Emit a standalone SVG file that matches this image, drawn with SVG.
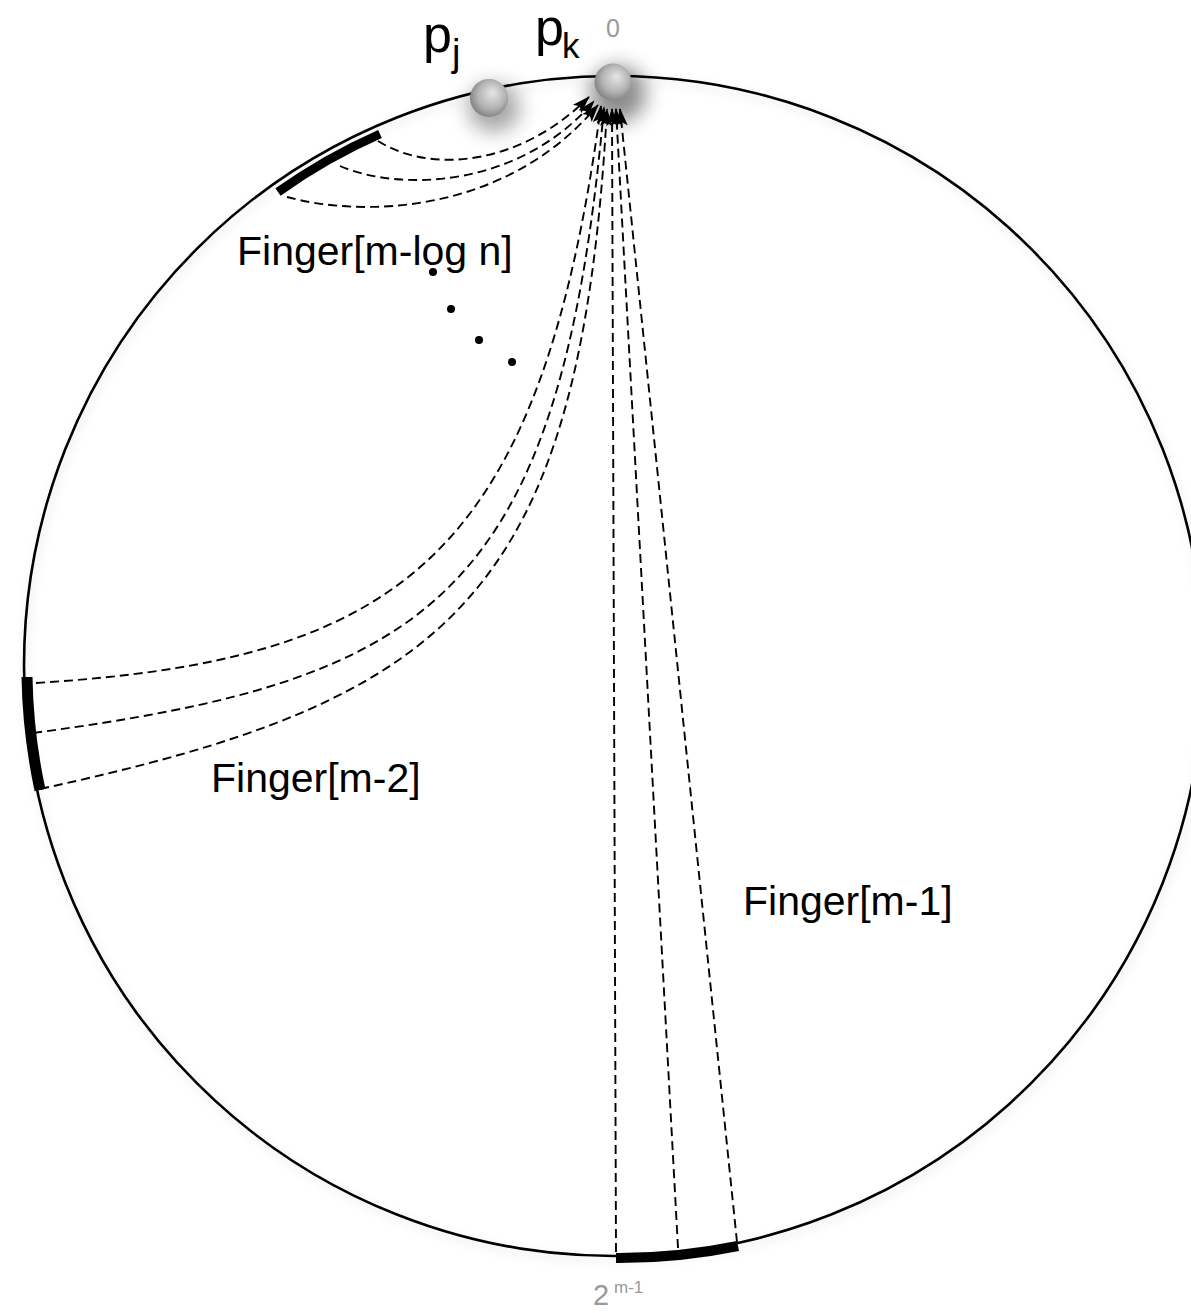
<svg xmlns="http://www.w3.org/2000/svg" width="1191" height="1313" viewBox="0 0 1191 1313">
<style>
.lbl{font-family:"Liberation Sans",Arial,sans-serif;fill:#000}
.grey{font-family:"Liberation Sans",Arial,sans-serif;fill:#999}
.dash{fill:none;stroke:#000;stroke-width:1.9;stroke-dasharray:9 5}
.bar{fill:none;stroke:#000;stroke-linecap:butt}
</style>
<defs>
<marker id="ah" markerUnits="userSpaceOnUse" markerWidth="18" markerHeight="12" viewBox="0 0 18 12" refX="17" refY="6" orient="auto">
<path d="M0,0 L18,6 L0,12 L4,6 Z" fill="#000"/>
</marker>
<radialGradient id="ball" cx="0.55" cy="0.45" r="0.6" fx="0.6" fy="0.35">
<stop offset="0" stop-color="#e6e6e6"/>
<stop offset="0.6" stop-color="#b4b4b4"/>
<stop offset="1" stop-color="#7c7c7c"/>
</radialGradient>
<filter id="blur" x="-100%" y="-100%" width="300%" height="300%"><feGaussianBlur stdDeviation="10"/></filter>
<filter id="soft" x="-10%" y="-10%" width="120%" height="120%"><feDropShadow dx="2" dy="4" stdDeviation="5" flood-color="#000" flood-opacity="0.12"/></filter>
</defs>
<rect width="1191" height="1313" fill="#fff"/>
<g id="ring" filter="url(#soft)">
<circle cx="614" cy="666" r="590" fill="none" stroke="#000" stroke-width="2.6"/>
</g>
<g id="finger-mlogn">
<path class="bar" stroke-width="9" d="M278,192 A581,581 0 0 1 380,134"/>
<text class="lbl" x="237" y="265" font-size="41">Finger[m-log n]</text>
</g>
<g id="finger-m2">
<path class="bar" stroke-width="11" d="M27,677 A587,587 0 0 0 40,790"/>
<text class="lbl" x="211" y="792" font-size="41">Finger[m-2]</text>
</g>
<g id="finger-m1">
<path class="bar" stroke-width="10" d="M616,1258 A593,593 0 0 0 738,1246"/>
<text class="lbl" x="743" y="915" font-size="41">Finger[m-1]</text>
</g>
<g id="dots" fill="#000">
<circle cx="433" cy="272" r="4"/>
<circle cx="451" cy="309" r="4"/>
<circle cx="479" cy="340" r="4"/>
<circle cx="512" cy="362" r="4"/>
</g>
<g id="connectors">
<path class="dash" marker-end="url(#ah)" d="M378,141 C430,174 520,166 589,97"/>
<path class="dash" marker-end="url(#ah)" d="M340,166 C400,192 520,188 594,101"/>
<path class="dash" marker-end="url(#ah)" d="M287,197 C360,217 505,216 598,105"/>
<path class="dash" marker-end="url(#ah)" d="M36,683 C400,660 540,560 601,106"/>
<path class="dash" marker-end="url(#ah)" d="M33,733 C430,680 560,600 604,107"/>
<path class="dash" marker-end="url(#ah)" d="M40,789 C450,700 580,600 607,109"/>
<path class="dash" marker-end="url(#ah)" d="M616,1252 L612,109"/>
<path class="dash" marker-end="url(#ah)" d="M678,1248 L616,109"/>
<path class="dash" marker-end="url(#ah)" d="M737,1242 L620,109"/>
</g>
<g id="pj">
<ellipse cx="494" cy="108" rx="26" ry="24" fill="#000" opacity="0.35" filter="url(#blur)"/>
<circle cx="489" cy="98" r="19" fill="url(#ball)"/>
<text class="lbl" x="423" y="52" font-size="52">p</text>
<text class="lbl" x="452" y="66" font-size="38">j</text>
</g>
<g id="pk">
<ellipse cx="618" cy="94" rx="28" ry="28" fill="#000" opacity="0.45" filter="url(#blur)"/>
<circle cx="613" cy="82" r="18.5" fill="url(#ball)"/>
<text class="lbl" x="535" y="45" font-size="52">p</text>
<text class="lbl" x="562" y="58" font-size="35">k</text>
<text class="grey" x="606" y="37" font-size="25">0</text>
</g>
<g id="label-2m1">
<text class="grey" x="593" y="1305" font-size="29">2<tspan x="614" y="1293" font-size="17">m-1</tspan></text>
</g>
</svg>
